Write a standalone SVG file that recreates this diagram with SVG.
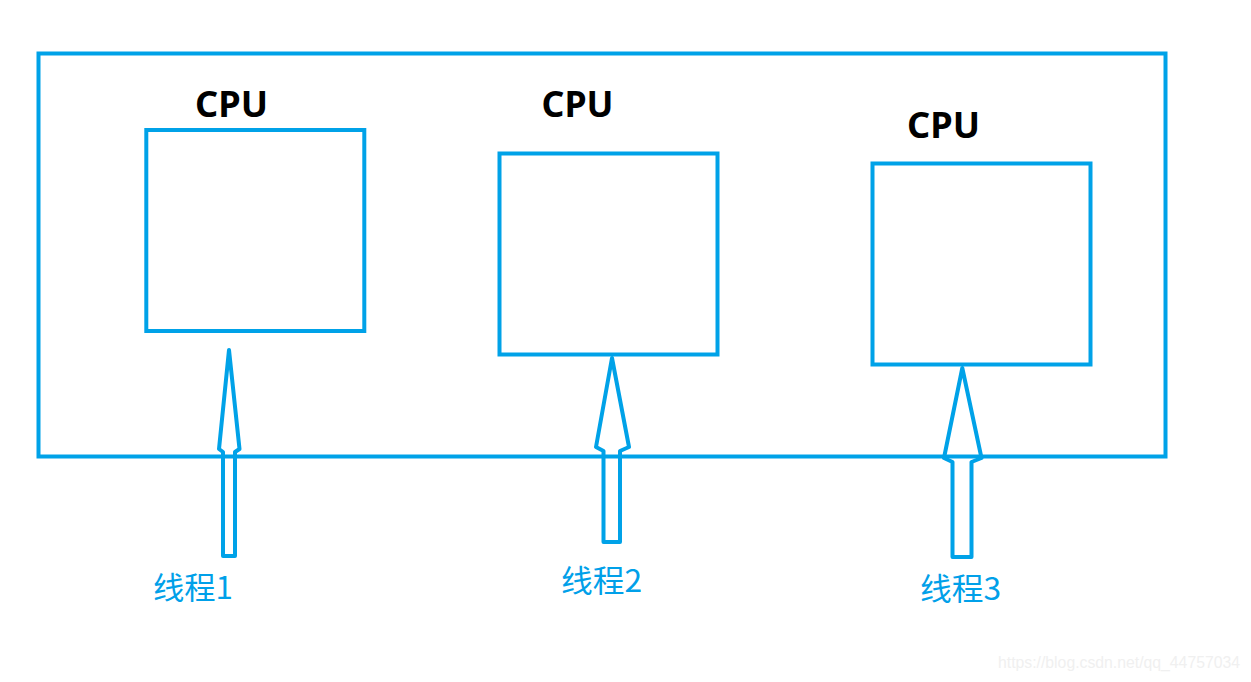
<svg xmlns="http://www.w3.org/2000/svg" width="1251" height="682" viewBox="0 0 1251 682">
  <style>
    .box { fill: none; stroke: #00a2e8; stroke-width: 4; }
    .arrow { fill: none; stroke: #00a2e8; stroke-width: 4; stroke-linejoin: round; }
    .cpu { font-family: "Noto Sans", "Open Sans", sans-serif; font-weight: bold; font-size: 36px; fill: #000; }
    .lbl { font-family: "Noto Sans CJK SC", "Noto Sans", sans-serif; font-size: 31px; fill: #00a0e9; }
    .wm { font-family: "Liberation Sans", Arial, sans-serif; font-size: 16px; fill: #f0f0f0; }
  </style>
  <rect width="1251" height="682" fill="#ffffff"/>
  <g id="container">
    <rect class="box" x="38.5" y="53.5" width="1127" height="403"/>
  </g>
  <g id="cpu1">
    <rect class="box" x="146.3" y="130" width="218" height="201"/>
    <text class="cpu" x="195" y="117" textLength="73" lengthAdjust="spacingAndGlyphs">CPU</text>
  </g>
  <g id="cpu2">
    <rect class="box" x="499.5" y="153.5" width="218" height="201"/>
    <text class="cpu" x="541.5" y="117" textLength="72" lengthAdjust="spacingAndGlyphs">CPU</text>
  </g>
  <g id="cpu3">
    <rect class="box" x="872.5" y="163.5" width="218" height="201"/>
    <text class="cpu" x="907" y="138" textLength="73" lengthAdjust="spacingAndGlyphs">CPU</text>
  </g>
  <g id="thread1">
    <text class="lbl" x="153" y="599" textLength="80" lengthAdjust="spacingAndGlyphs">线程1</text>
  </g>
  <g id="thread2">
    <text class="lbl" x="561" y="592" textLength="81" lengthAdjust="spacingAndGlyphs">线程2</text>
  </g>
  <g id="thread3">
    <text class="lbl" x="920" y="600" textLength="81" lengthAdjust="spacingAndGlyphs">线程3</text>
  </g>
  <g id="connectors">
    <polygon class="arrow" points="229,350 239.5,449 235,452 235,556 223,556 223,452 219,449"/>
    <polygon class="arrow" points="612,358 629,447 620,451 620,542 603.5,542 603.5,451 596,447"/>
    <polygon class="arrow" points="962.3,368 981.5,458 971.5,462 971.5,557 952.5,557 952.5,462 944,458"/>
  </g>
  <text class="wm" x="998" y="668" textLength="242" lengthAdjust="spacingAndGlyphs">https://blog.csdn.net/qq_44757034</text>
</svg>
